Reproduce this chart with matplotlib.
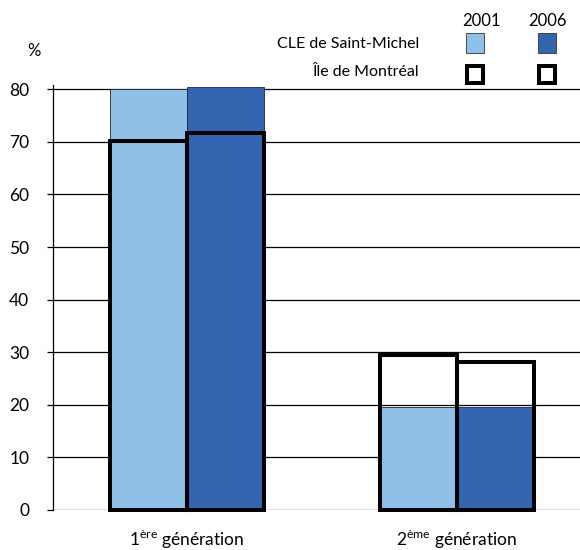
import numpy as np
import matplotlib.pyplot as plt
from matplotlib.patches import Rectangle

# Data
categories = ['1$^{\\mathrm{ère}}$ génération', '2$^{\\mathrm{ème}}$ génération']
years = ['2001', '2006']
cle_2001 = [80.0, 19.6]      # CLE de Saint-Michel
cle_2006 = [80.4, 19.6]
mtl_2001 = [70.1, 29.5]      # Ile de Montreal
mtl_2006 = [71.6, 28.1]
yticks = [0, 10, 20, 30, 40, 50, 60, 70, 80]

light = '#8EC0E8'
dark = '#3465B1'

plt.rcParams['font.family'] = ['Lato', 'DejaVu Sans']
plt.rcParams['mathtext.fontset'] = 'custom'
plt.rcParams['mathtext.rm'] = 'Lato'

fig = plt.figure(figsize=(5.8, 5.5), dpi=100)
ax = fig.add_axes([53 / 580, 1 - 510 / 550, 527 / 580, 425 / 550])

x = np.arange(len(categories))
w = 0.285

ax.bar(x - w / 2, cle_2001, w, color=light, edgecolor='#222222', linewidth=0.6, zorder=2, clip_on=False)
ax.bar(x + w / 2, cle_2006, w, color=dark, edgecolor='#1a2a50', linewidth=0.6, zorder=2, clip_on=False)
ax.bar(x - w / 2, mtl_2001, w, fill=False, edgecolor='black', linewidth=2.9, zorder=3, clip_on=False)
ax.bar(x + w / 2, mtl_2006, w, fill=False, edgecolor='black', linewidth=2.9, zorder=3, clip_on=False)

ax.set_xlim(-0.496, 1.456)
ax.set_ylim(0, 80.8)
ax.set_yticks(yticks)
ax.set_yticklabels([str(v) for v in yticks], fontsize=12.5)
ax.yaxis.grid(True, color='black', linewidth=0.9)
ax.set_axisbelow(True)
ax.tick_params(axis='y', direction='out', length=4, width=0.9, pad=13)
ax.set_xticks(x)
ax.set_xticklabels(categories, fontsize=12.5)
ax.tick_params(axis='x', length=0, pad=13)
for s in ['top', 'right', 'bottom']:
    ax.spines[s].set_visible(False)
ax.spines['left'].set_linewidth(0.9)

# '%' label
fig.text(34 / 580, 1 - 51 / 550, '%', fontsize=12, ha='center', va='center')

# manual legend
fig.text(481 / 580, 1 - 21 / 550, years[0], fontsize=12, ha='center', va='center')
fig.text(547 / 580, 1 - 21 / 550, years[1], fontsize=12, ha='center', va='center')
fig.text(419 / 580, 1 - 44 / 550, 'CLE de Saint-Michel', fontsize=11.5, ha='right', va='center')
fig.text(419 / 580, 1 - 72 / 550, 'Île de Montréal', fontsize=11.5, ha='right', va='center')
for cx, col in [(475, light), (547, dark)]:
    fig.patches.append(Rectangle(((cx - 9) / 580, 1 - 53 / 550), 18 / 580, 20 / 550,
                                 transform=fig.transFigure, facecolor=col, edgecolor='#333333', linewidth=0.6))
    fig.patches.append(Rectangle(((cx - 8) / 580, 1 - 83 / 550), 16 / 580, 17 / 550,
                                 transform=fig.transFigure, facecolor='white', edgecolor='black', linewidth=2.9))

fig.savefig('out.png', dpi=100)
